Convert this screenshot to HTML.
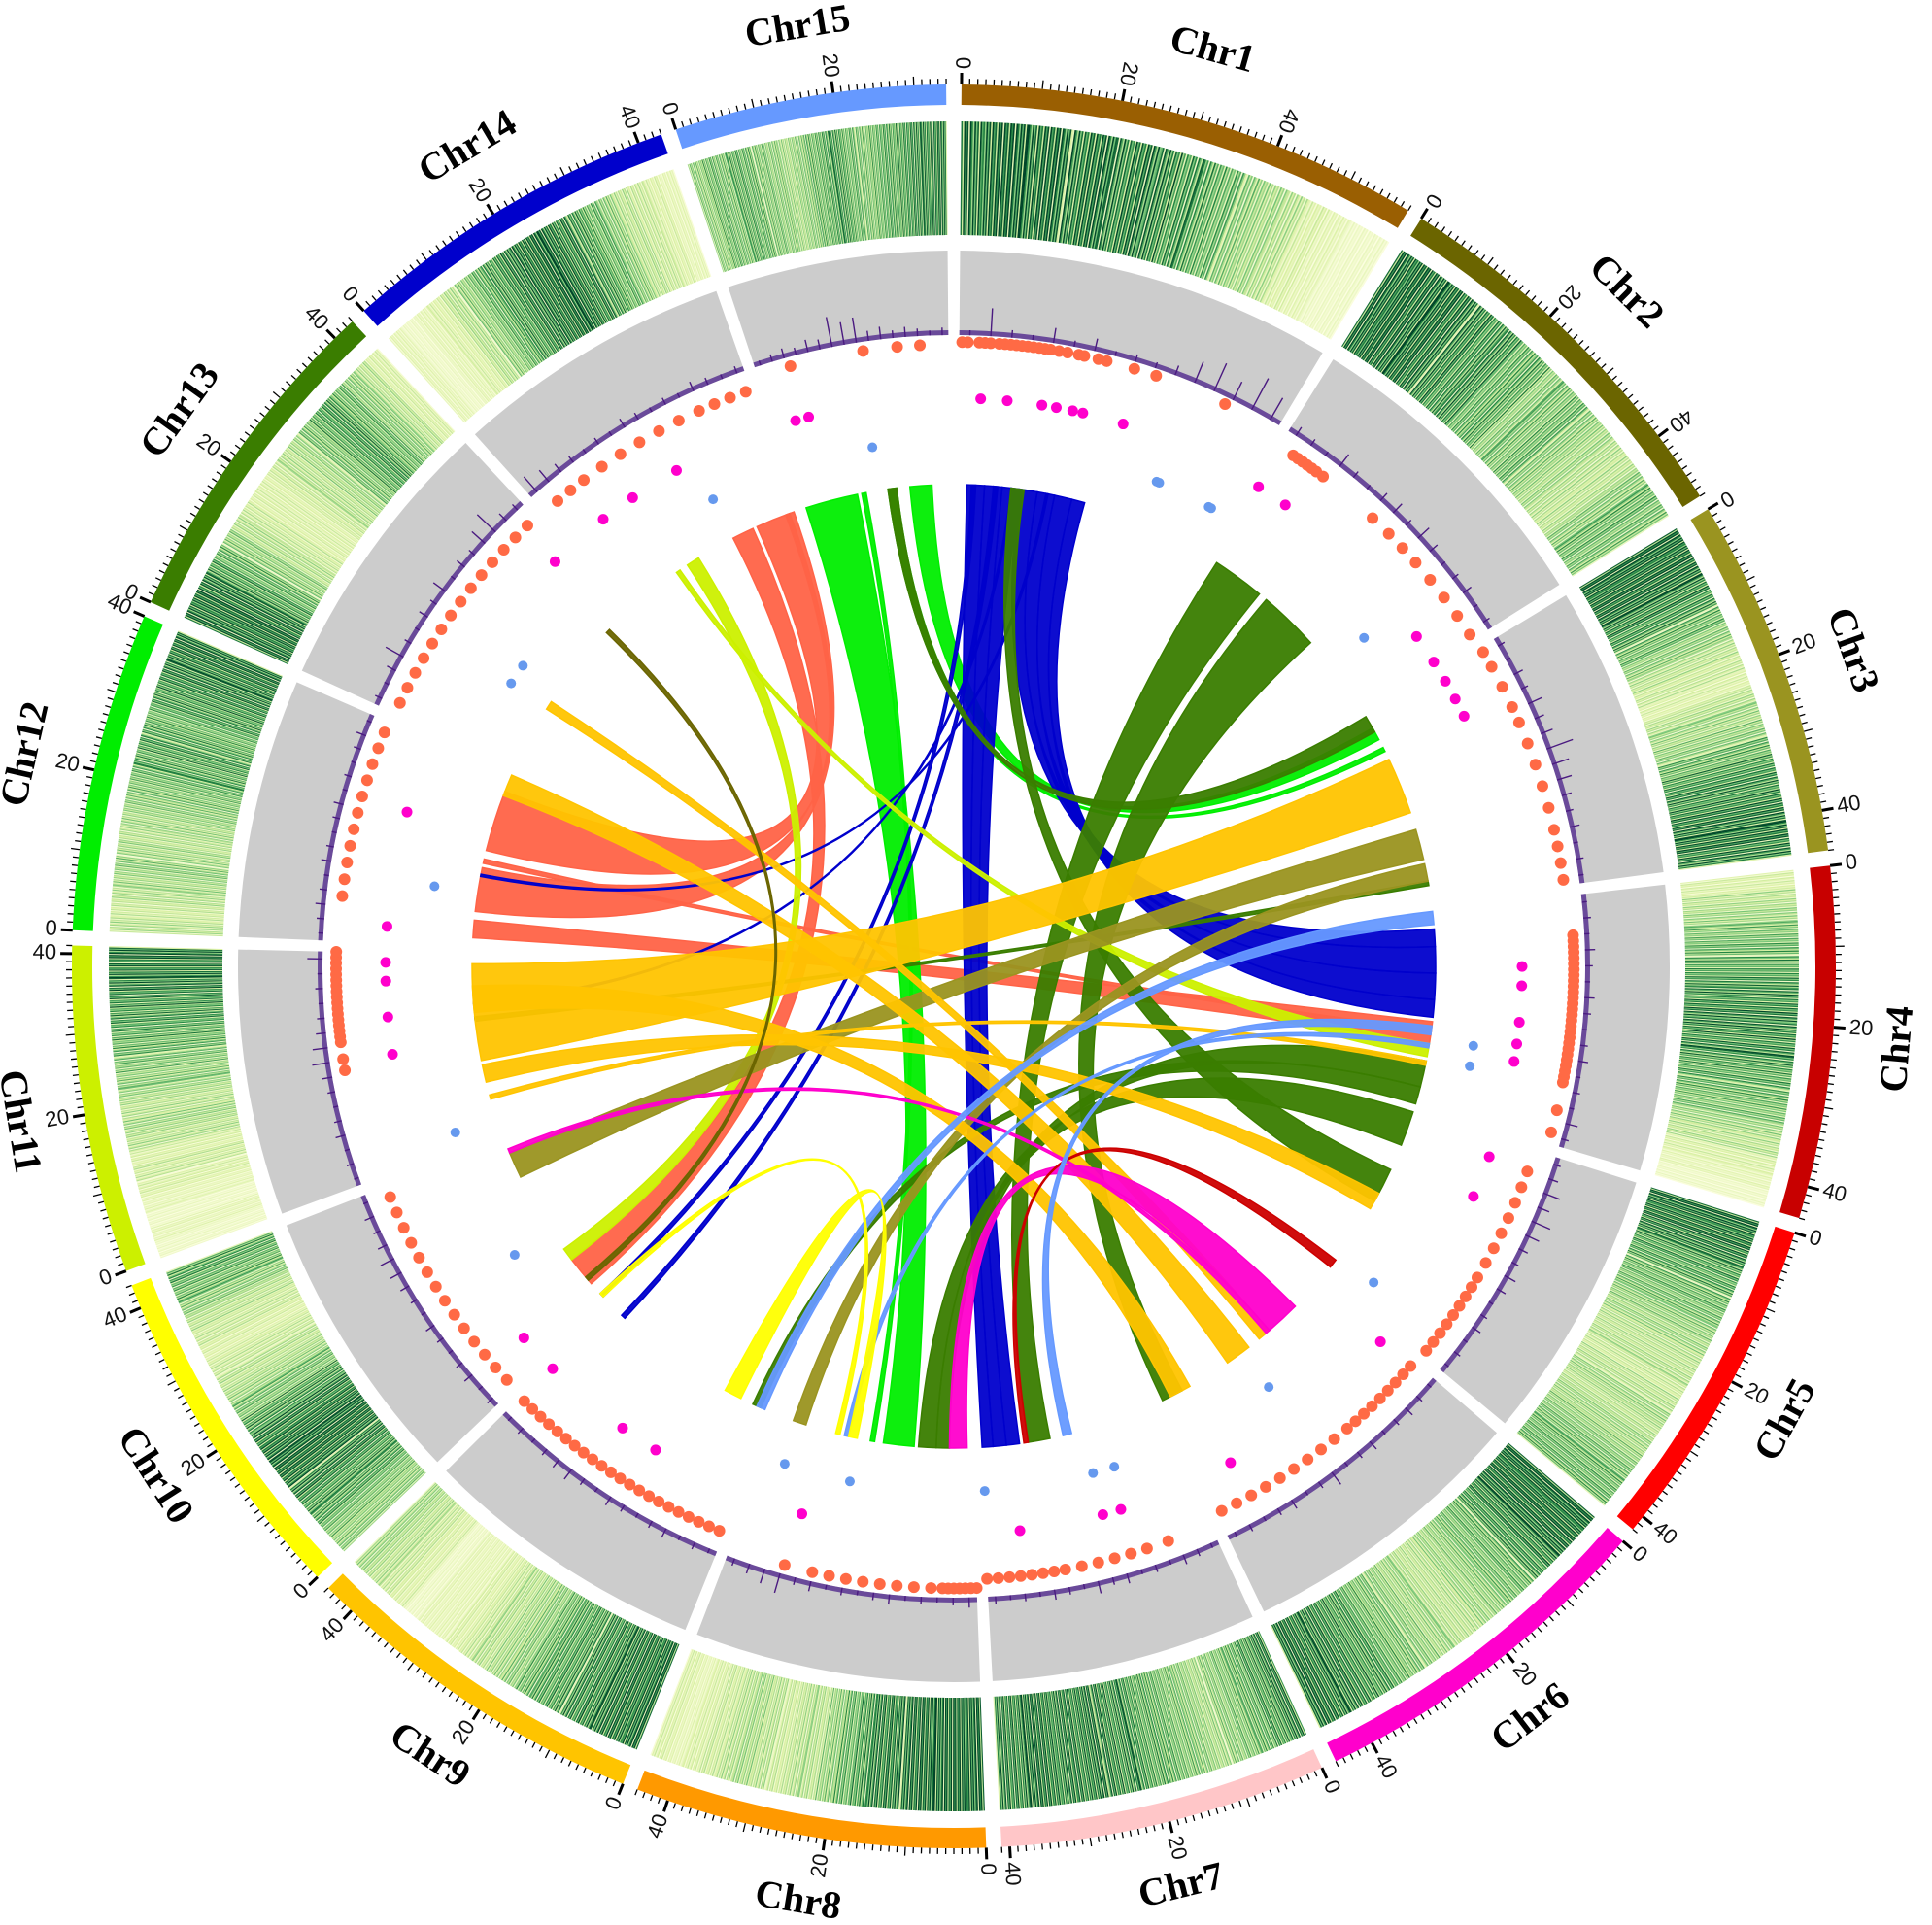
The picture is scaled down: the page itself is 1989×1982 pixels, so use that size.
<!DOCTYPE html>
<html><head><meta charset="utf-8"><title>Circos genome plot</title>
<style>html,body{margin:0;padding:0;background:#fff}svg{display:block}</style></head>
<body>
<svg id="chart" xmlns="http://www.w3.org/2000/svg" width="1989" height="1982" viewBox="0 0 1989 1982"></svg>
<script>
// ---------- data ----------
const chrNames = ["Chr1","Chr2","Chr3","Chr4","Chr5","Chr6","Chr7","Chr8","Chr9","Chr10","Chr11","Chr12","Chr13","Chr14","Chr15"];
const chrLengths = [58,49,45,44,42,45,41,44,44,43,41,40,43,43,34];
const chrColors = ["#9a5f02","#6b6500","#9a9420","#c80000","#ff0000","#ff00cc","#ffc6c8","#ff9900","#ffc400","#ffff00","#ccf000","#00ee00","#3a7d00","#0000cc","#6699ff"];
const tickLabels = [0,20,40];
const heatValues = [
 [.8,.85,.9,.8,.85,.75,.8,.7,.75,.7,.6,.55,.5,.4,.35,.3,.2,.15,.1,.1],
 [.85,.9,.8,.85,.75,.7,.6,.65,.5,.55,.4,.45,.5,.4,.35,.3,.3,.4,.5,.45],
 [.9,.85,.8,.7,.6,.5,.4,.3,.25,.2,.3,.35,.4,.5,.6,.65,.7,.75,.8,.7],
 [.2,.3,.35,.45,.5,.55,.6,.65,.7,.7,.65,.6,.55,.5,.45,.35,.3,.2,.15,.1],
 [.85,.8,.7,.6,.55,.5,.45,.4,.35,.3,.3,.25,.3,.35,.3,.35,.4,.45,.5,.5],
 [.9,.85,.8,.7,.6,.5,.45,.4,.35,.3,.3,.35,.4,.45,.5,.6,.65,.7,.75,.8],
 [.7,.6,.5,.45,.4,.35,.4,.45,.5,.55,.6,.65,.7,.75,.7,.7,.75,.8,.7,.7],
 [.9,.9,.85,.85,.8,.75,.7,.6,.5,.4,.3,.3,.25,.3,.35,.3,.25,.2,.15,.2],
 [.85,.8,.75,.7,.65,.6,.55,.5,.4,.35,.3,.25,.2,.15,.15,.1,.2,.25,.3,.35],
 [.4,.45,.55,.6,.7,.8,.85,.8,.7,.6,.45,.35,.3,.25,.2,.25,.3,.4,.5,.55],
 [.1,.15,.1,.15,.2,.25,.2,.3,.35,.3,.35,.4,.45,.5,.55,.6,.65,.7,.75,.8],
 [.3,.25,.3,.35,.4,.35,.3,.35,.4,.45,.5,.55,.6,.55,.5,.6,.65,.7,.75,.8],
 [.8,.85,.75,.6,.5,.4,.3,.25,.2,.2,.25,.3,.35,.45,.55,.6,.5,.4,.3,.2],
 [.15,.1,.15,.2,.3,.4,.5,.6,.7,.8,.85,.8,.7,.6,.5,.4,.3,.25,.2,.15],
 [.4,.5,.45,.55,.5,.45,.4,.35,.4,.5,.55,.6,.5,.45,.5,.55,.6,.65,.7,.75]
];
const heatTexture = [1,0.35,1.45,0.8,1.2,0.2,1.35,0.9,0.5,1.5,0.65,1.1,0.3,1.25,0.75];
const histValues = [
 [.1,.55,.15,.1,.3,.12,.25,.1,.15,.12,.2,.45,.6,.4,.7,.5],
 [.2,.15,.1,.3,.15,.1,.2,.25,.15,.3,.2,.1,.15,.2,.1,.15],
 [.15,.1,.2,.15,.3,.2,.25,.55,.35,.3,.2,.15,.2,.1,.15,.1],
 [.1,.15,.1,.2,.15,.1,.2,.15,.1,.15,.2,.1,.15,.1,.25,.15],
 [.15,.2,.35,.25,.4,.3,.2,.15,.25,.2,.1,.15,.2,.1,.15,.1],
 [.1,.15,.2,.15,.1,.2,.15,.1,.3,.15,.1,.2,.15,.1,.15,.1],
 [.1,.15,.2,.1,.15,.1,.2,.15,.25,.1,.15,.2,.1,.15,.1,.15],
 [.2,.15,.1,.15,.1,.2,.15,.1,.15,.1,.2,.15,.4,.3,.2,.15],
 [.1,.15,.1,.2,.15,.1,.15,.2,.1,.15,.25,.2,.15,.1,.15,.1],
 [.15,.1,.2,.15,.1,.15,.2,.1,.15,.2,.25,.3,.2,.15,.2,.1],
 [.1,.15,.1,.2,.15,.1,.15,.2,.35,.3,.2,.15,.1,.15,.1,.3],
 [.1,.15,.2,.15,.1,.2,.15,.1,.15,.2,.1,.15,.1,.15,.2,.1],
 [.15,.1,.2,.4,.15,.1,.2,.15,.3,.1,.2,.15,.35,.5,.2,.15],
 [.4,.3,.2,.15,.1,.15,.1,.2,.15,.1,.15,.1,.2,.15,.1,.15],
 [.1,.15,.2,.15,.25,.2,.6,.45,.5,.2,.25,.15,.2,.15,.1,.15]
];
const orangePos = [
 [0.5,1.5,3.5,4.5,5.5,7,8,9,10,11,12,13,14,15,16,17.5,19,21,22,24.5,26,31,35,48],
 [3,4,5,6,7,8,9.5,21,25,28.5,32,36,40,44,48],
 [1,4,8,12,15,19,23,27,31,35,38,41,44],
 [7,8,9,10,11,12,13,14,15,16,17,18,19,20,21,22,23,24,25,26,27,28,29,30,31,32,33,38,42],
 [4,7,10,13,16,19,22,25,27,29,31,33,35,37,39,41],
 [1,3,5,7,9,11,13,15,17,20,23,26,29,32,35,38,41,44],
 [8,12,15,18,21,24,27,29,31,33,35,37,39,41],
 [0,1,2,3,4,5,6,8,11,14,17,20,23,26,29,34],
 [1,3,5,7,9,11,13,15,17,19,21,23,25,27,29,31,33,35,37,39,41,43],
 [2,5,8,11,14,17,20,23,26,29,32,35,38,41],
 [20,22,25,26,27,28,29,30,31,32,33,34,35,36,37,38,39,40,41],
 [8,11,14,17,20,23,26,29,32,35,38],
 [2,5,8,11,14,17,20,23,26,29,32,35,38,41],
 [3,6,9,13,17,21,25,29,33,36,39,42],
 [6,19,25,29]
];
const orangeLevel = [0.95,0.7,0.75,0.85,0.6,0.55,0.7,0.9,0.65,0.6,0.8,0.75,0.7,0.65,0.9];
const pinkDots = [[1,4.2],[1,9.3],[1,16],[1,18.8],[1,22],[1,24],[1,32],[2,0.8],[2,7],[2,42.8],[2,48.7],[3,2.1],[3,6],[3,9.7],[4,12.5],[4,16.2],[4,23.2],[4,27.4],[4,30.8],[5,3.8],[5,12],[6,1.3],[6,38.4],[7,14.4],[7,18],[7,34.2],[8,33.5],[9,18.3],[9,25.9],[9,43.5],[10,5.7],[11,21.5],[11,28.7],[11,35.6],[11,39.2],[12,3.2],[12,25.5],[13,40],[14,7.4],[14,14.4],[14,24.3],[15,4.2],[15,6.8]];
const blueDots = [[15,18],[1,42.2],[1,42.8],[1,54.2],[1,54.8],[2,36.7],[4,29],[4,33.3],[5,36.9],[6,23.8],[7,13.1],[7,17.7],[7,40.5],[8,25.7],[8,39.7],[10,20],[11,3.4],[12,12.2],[13,15.6],[13,20],[14,28]];
const linkColors = {B:"#0000cc",G:"#00ee00",D:"#3a7d00",Y:"#ffc400",O:"#9a9420",C:"#ff6347",YG:"#ccf000",M:"#ff00cc",R:"#cc0000",LB:"#6699ff",YY:"#ffff00",DO:"#6b6500"};
const links = [
 [12,22,36,14,34,42,"C"],[12,8,18,14,41,43,"C"],[12,2,6,4,25,30,"C"],[10,5,12,14,28,33,"C"],[12,19,20,4,27,28,"C"],
 [15,1,13,8,13,20,"G"],[15,25,30,3,3,6,"G"],[15,20,22,3,8,9,"G"],[15,14,15,8,22,23,"G"],
 [1,2,6,7,38,40.5,"B"],[1,6,10,7,35,38,"B"],[1,10,14,7,32,35,"B"],[1,14,18,4,4,8,"B"],[1,18,22,4,8,14,"B"],[1,22,26,4,14,20,"B"],[1,26,29,4,20,24,"B"],[1,3,4,10,1,2,"B"],[1,8,9,9,40,41,"B"],[1,12,12.5,11,30,30.5,"B"],[1,20,20.5,12,16,16.5,"B"],
 [2,2,14,7,25,30,"D"],[2,16,30,6,40,45,"D"],[5,0,8,8,8,12,"D"],[3,0,4,15,20,22,"D"],[4,34,40,8,5,8,"D"],[5,14,22,1,12,15,"D"],[4,40,44,9,3,5,"D"],[3,40,41,11,26,27,"D"],
 [14,16,19,10,12,15,"YG"],[14,13,14,4,30,33,"YG"],
 [10,34,40,3,28,35,"O"],[8,38,41,3,36,40,"O"],
 [11,17,39,3,11,24,"Y"],[11,28,34,6,38,43,"Y"],[13,15,17,6,16,19,"Y"],[12,35,40,6,22,28,"Y"],[11,12,16,5,20,24,"Y"],[11,8,9,4,34,35,"Y"],
 [6,8,16,8,1,5,"M"],[6,16,17,10,40,41,"M"],
 [5,38,40,7,30,31,"R"],
 [4,0,3,9,2,4,"LB"],[4,26,28,7,20,22,"LB"],[4,30,31,8,28,29,"LB"],
 [9,8,12,8,26,28,"YY"],[10,1,2,8,30,31,"YY"],
 [13,37,38,10,6,7,"DO"]
];

// ---------- geometry ----------
const CX=982, CY=995, GAP=1.0, START=0.5;
const totalLen = chrLengths.reduce((a,b)=>a+b,0);
const K = (360-GAP*chrLengths.length)/totalLen;
const chrStart=[]; {let a=START; chrLengths.forEach(l=>{chrStart.push(a); a+=l*K+GAP;});}
function ang(c,pos){return chrStart[c]+pos*K;}
function P(r,a){const t=a*Math.PI/180;return [CX+r*Math.sin(t),CY-r*Math.cos(t)];}
function sector(r0,r1,a0,a1){
  const L=(a1-a0)>180?1:0;const p0=P(r1,a0),p1=P(r1,a1),p2=P(r0,a1),p3=P(r0,a0);
  return `M${p0[0]},${p0[1]}A${r1},${r1} 0 ${L} 1 ${p1[0]},${p1[1]}L${p2[0]},${p2[1]}A${r0},${r0} 0 ${L} 0 ${p3[0]},${p3[1]}Z`;
}
function heatColor(v){
  v=Math.max(0,Math.min(1,v));
  const st=[[0,[255,255,229]],[0.25,[217,240,163]],[0.5,[120,198,121]],[0.75,[35,132,67]],[1,[0,69,41]]];
  for(let i=1;i<st.length;i++){ if(v<=st[i][0]){const t=(v-st[i-1][0])/(st[i][0]-st[i-1][0]);const a=st[i-1][1],b=st[i][1];
    return `rgb(${Math.round(a[0]+(b[0]-a[0])*t)},${Math.round(a[1]+(b[1]-a[1])*t)},${Math.round(a[2]+(b[2]-a[2])*t)})`;}}
  return "rgb(0,69,41)";
}
const svg=document.getElementById('chart');
const NS="http://www.w3.org/2000/svg";
function mk(tag,attrs,parent){const e=document.createElementNS(NS,tag);for(const k in attrs)e.setAttribute(k,attrs[k]);(parent||svg).appendChild(e);return e;}

// ---------- tracks ----------
const R_BAND0=887,R_BAND1=908,R_HEAT0=753,R_HEAT1=870,R_GRAY0=650,R_GRAY1=737,R_ORANGE0=600,R_ORANGE1=645,R_PINK=585,R_BLUE=541,R_LINK=496;

const gHeat=mk('g',{});


const gGray=mk('g',{});



chrLengths.forEach((len,c)=>{
  const a0=ang(c,0),a1=ang(c,len);
  const band=mk('path',{d:sector(R_BAND0,R_BAND1,a0,a1),fill:chrColors[c]});
  
  
  for(let u=0;u<=len;u++){
    const a=ang(c,u);const major=(u%20===0),mid=(u%10===0);
    const L=major?12:(mid?9:6);
    const p=P(R_BAND1,a),q=P(R_BAND1+L,a);
    const t=mk('line',{x1:p[0],y1:p[1],x2:q[0],y2:q[1],stroke:'#000','stroke-width':major?3:1.3});
    
    
  }
  tickLabels.forEach(v=>{
    if(v>len)return;
    const a=ang(c,v);const p=P(R_BAND1+16,a);
    const inward=(a>=180||a<60);
    const rot=inward?a+90:a-90;
    const tx=mk('text',{x:p[0],y:p[1],'font-family':'Liberation Sans, sans-serif','font-size':22,fill:'#111','text-anchor':inward?'end':'start','dominant-baseline':'middle',transform:`rotate(${rot} ${p[0]} ${p[1]})`});
    tx.textContent=v;
    
    
  });
  {
    const am=(a0+a1)/2;const p=P(978,am);
    const rot=(am>90&&am<270)?am-180:am;
    const tx=mk('text',{x:p[0],y:p[1],'font-family':'Liberation Serif, serif','font-weight':'bold','font-size':40,fill:'#000','text-anchor':'middle','dominant-baseline':'middle',transform:`rotate(${rot} ${p[0]} ${p[1]})`});
    tx.textContent=chrNames[c];
    
    
  }
  const hv=heatValues[c],nb=hv.length,sub=heatTexture.length;
  hv.forEach((v,i)=>{
    for(let s=0;s<sub;s++){
      const u0=len*(i+s/sub)/nb,u1=len*(i+(s+1)/sub)/nb;
      const cell=mk('path',{d:sector(R_HEAT0,R_HEAT1,ang(c,u0),ang(c,u1)+0.02),fill:heatColor(v*heatTexture[(s+i*7)%sub])},gHeat);
      
      
    }
  });
  const bg=mk('path',{d:sector(R_GRAY0,R_GRAY1,a0,a1),fill:'#cccccc'},gGray);
  
  
  const fringe=mk('path',{d:sector(R_GRAY0,R_GRAY0+5,a0,a1),fill:'#6a4a9a'},gGray);
  
  
  const hs=histValues[c];
  hs.forEach((v,i)=>{
    const a=ang(c,len*(i+0.5)/hs.length);
    const p=P(R_GRAY0,a),q=P(R_GRAY0+v*0.6*(R_GRAY1-R_GRAY0),a);
    const sp=mk('line',{x1:p[0],y1:p[1],x2:q[0],y2:q[1],stroke:'#4a1a80','stroke-width':1.4},gGray);
    
    
  });
  orangePos[c].forEach(u=>{
    const r=R_ORANGE0+orangeLevel[c]*(R_ORANGE1-R_ORANGE0);
    const p=P(r,ang(c,u));
    const d=mk('circle',{cx:p[0],cy:p[1],r:6,fill:'#ff6a45'});
    
    
  });
});
pinkDots.forEach(([c,u])=>{
  const p=P(R_PINK,ang(c-1,u));
  const d=mk('circle',{cx:p[0],cy:p[1],r:5.5,fill:'#ff00cc'});
  
  
});
blueDots.forEach(([c,u])=>{
  const p=P(R_BLUE,ang(c-1,u));
  const d=mk('circle',{cx:p[0],cy:p[1],r:5,fill:'#6699ee'});
  
  
});
const gLinks=mk('g',{});


links.forEach(([ca,sa,ea,cb,sb,eb,col])=>{
  const a1=ang(ca-1,sa),a2=ang(ca-1,ea),b1=ang(cb-1,sb),b2=ang(cb-1,eb);
  const R=R_LINK;
  const pa1=P(R,a1),pa2=P(R,a2),pb1=P(R,b1),pb2=P(R,b2);
  const d=`M${pa1[0]},${pa1[1]}A${R},${R} 0 0 1 ${pa2[0]},${pa2[1]}Q${CX},${CY} ${pb1[0]},${pb1[1]}A${R},${R} 0 0 1 ${pb2[0]},${pb2[1]}Q${CX},${CY} ${pa1[0]},${pa1[1]}Z`;
  const l=mk('path',{d:d,fill:linkColors[col],'fill-opacity':0.95,stroke:linkColors[col],'stroke-width':1.5},gLinks);
  
  
});
</script>
</body></html>
